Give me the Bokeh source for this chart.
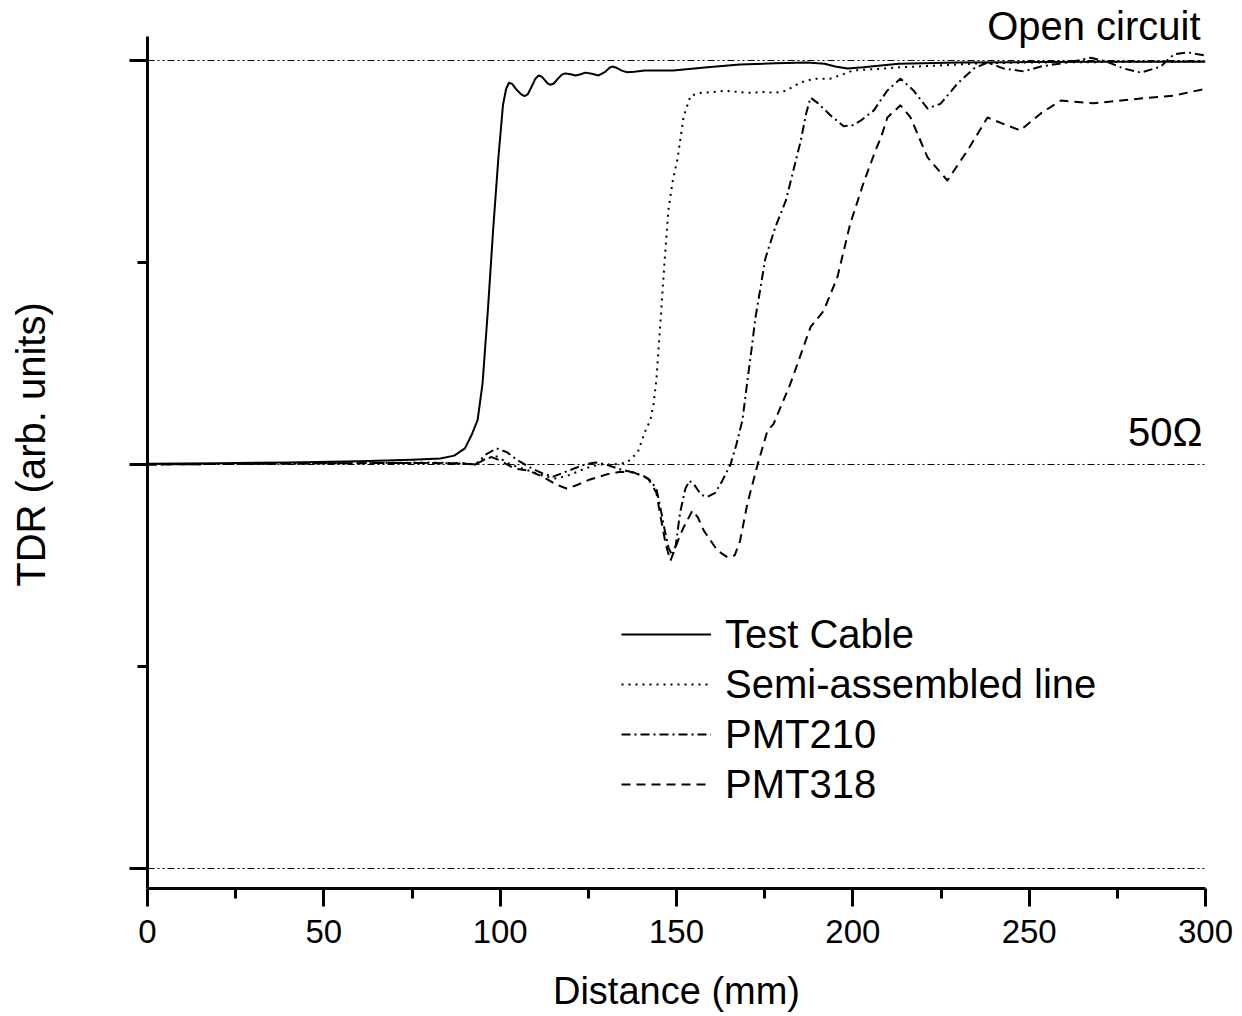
from bokeh.plotting import figure
from bokeh.models import (Range1d, FixedTicker, Span, Label, Legend, LegendItem,
                          CustomJSTickFormatter)
from bokeh.embed import file_html
from bokeh.resources import INLINE

FONT = "Liberation Sans"

# ---------------- data ----------------
x_ticks = [0, 50, 100, 150, 200, 250, 300]
x_minor = [25, 75, 125, 175, 225, 275]
y_ticks = [-1, 0, 1]
y_minor = [-0.5, 0.5]
ref_levels = [1, 0, -1]

series_names = ["Test Cable", "Semi-assembled line", "PMT210", "PMT318"]

test_x = [0, 20, 40, 60, 75, 83, 87, 90, 92, 93.6, 95, 96.5, 98, 99.5, 100.8, 101.7,
          102.5, 103.4, 104.6, 106, 106.9, 107.8, 108.9, 110, 110.9, 111.8, 112.6,
          113.5, 114.3, 115.2, 116.4, 117.5, 118.5, 120, 121.4, 122.8, 124.2, 126,
          127.9, 129.8, 131, 131.8, 133, 134.5, 136, 138, 141, 149, 158.8, 168, 178,
          187, 192, 195, 198.5, 203, 213, 230, 250, 270, 300]
test_y = [0.002, 0.003, 0.005, 0.008, 0.012, 0.015, 0.022, 0.04, 0.075, 0.11, 0.2,
          0.38, 0.58, 0.76, 0.89, 0.93, 0.945, 0.942, 0.928, 0.916, 0.912, 0.916,
          0.935, 0.955, 0.963, 0.96, 0.952, 0.943, 0.94, 0.943, 0.955, 0.965, 0.968,
          0.966, 0.963, 0.966, 0.97, 0.967, 0.963, 0.972, 0.982, 0.985, 0.982, 0.975,
          0.971, 0.972, 0.975, 0.975, 0.983, 0.99, 0.993, 0.995, 0.992, 0.985, 0.98,
          0.983, 0.992, 0.995, 0.996, 0.997, 0.997]

semi_x = [0, 50, 80, 90, 93, 96, 99, 103, 108, 113, 116, 120, 124, 128, 132, 136, 139,
          141, 142.6, 143.5, 144.3, 145.5, 146.6, 147.7, 148.9, 150.3, 152, 154, 157,
          160.5, 164, 170, 175, 178, 181, 185, 189, 193.6, 197, 200, 213, 225, 236, 250,
          270, 290, 300]
semi_y = [0.0, 0.003, 0.005, 0.003, 0.0, 0.015, 0.02, 0.0, -0.015, -0.03, -0.035,
          -0.025, -0.01, 0.0, 0.0, 0.005, 0.03, 0.08, 0.11, 0.15, 0.21, 0.36, 0.5, 0.63,
          0.70, 0.757, 0.86, 0.913, 0.92, 0.922, 0.925, 0.92, 0.922, 0.92, 0.925, 0.945,
          0.955, 0.955, 0.965, 0.975, 0.983, 0.988, 0.993, 0.995, 0.996, 0.997, 0.998]

pmt210_x = [0, 50, 80, 90, 93, 96, 99, 102, 105, 109, 112, 115, 118, 121, 124, 127,
            130, 134, 137.8, 141, 142.6, 144.3, 145.5, 146.6, 147.7, 148.8, 149.8, 151,
            152.5, 153.7, 155, 157, 158.8, 161, 163, 165.3, 167, 168.7, 170, 171.2,
            172.4, 175.2, 178, 181, 183.2, 185.2, 186.8, 188, 190, 193.7, 197.4, 200,
            202.2, 205.9, 209.8, 213.5, 217.2, 221.2, 224.9, 229.7, 234.3, 238.2, 242.8,
            248.5, 253.3, 262.7, 267.5, 272, 276.9, 281.7, 287.3, 291, 295, 300]
pmt210_y = [0.0, 0.003, 0.004, 0.002, 0.0, 0.025, 0.04, 0.03, 0.01, -0.01, -0.022,
            -0.03, -0.02, -0.01, 0.0, 0.005, 0.0, -0.012, -0.02, -0.03, -0.04, -0.06,
            -0.11, -0.16, -0.205, -0.225, -0.2, -0.12, -0.06, -0.04, -0.05, -0.075,
            -0.08, -0.07, -0.04, 0.0, 0.05, 0.11, 0.2, 0.28, 0.364, 0.51, 0.587, 0.653,
            0.73, 0.8, 0.87, 0.908, 0.895, 0.864, 0.837, 0.84, 0.851, 0.876, 0.926,
            0.955, 0.926, 0.881, 0.893, 0.943, 0.98, 0.995, 0.98, 0.973, 0.985, 0.998,
            1.007, 0.997, 0.98, 0.97, 0.985, 1.015, 1.02, 1.012]

pmt318_x = [0, 50, 80, 90, 93, 97, 100, 104, 108, 112, 116, 119, 122, 125.5, 130, 134,
            138, 142, 144.3, 145.5, 147, 148.3, 149.5, 151, 152, 154.5, 156, 157.7,
            161.6, 164.5, 166.5, 168, 170.1, 173, 175.8, 177.5, 182.3, 188, 191.7,
            195.6, 199.3, 203, 206.4, 208, 209.8, 213.5, 216.3, 221.2, 226.8, 232.5,
            238.2, 243.8, 247.5, 253.3, 259, 268.3, 281.6, 291, 300]
pmt318_y = [0.0, 0.003, 0.004, 0.002, 0.0, 0.02, 0.01, -0.01, -0.015, -0.03, -0.05,
            -0.06, -0.05, -0.037, -0.025, -0.018, -0.02, -0.035, -0.07, -0.13, -0.2,
            -0.238, -0.21, -0.175, -0.156, -0.114, -0.13, -0.163, -0.213, -0.23,
            -0.225, -0.19, -0.097, 0.0, 0.084, 0.1, 0.2, 0.34, 0.38, 0.463, 0.597,
            0.696, 0.777, 0.81, 0.859, 0.889, 0.86, 0.76, 0.703, 0.777, 0.859, 0.839,
            0.827, 0.869, 0.901, 0.894, 0.906, 0.913, 0.93]

# ---------------- figure ----------------
Y_BOTTOM, Y_AXIS_TOP, Y_FRAME_TOP = -1.0495, 1.0594, 1.1485

p = figure(width=1240, height=1014, output_backend="svg", toolbar_location=None,
           x_range=Range1d(0, 300), y_range=Range1d(Y_BOTTOM, Y_FRAME_TOP),
           x_axis_label="Distance (mm)", y_axis_label="TDR (arb. units)",
           min_border_left=147, min_border_top=0, min_border_right=35,
           min_border_bottom=126)
p.outline_line_color = None
p.xgrid.visible = False
p.ygrid.visible = False
p.background_fill_color = "white"
p.border_fill_color = "white"

xa = p.xaxis[0]
xa.ticker = FixedTicker(ticks=x_ticks, minor_ticks=x_minor)
xa.axis_line_width = 3
xa.major_tick_line_width = 3
xa.minor_tick_line_width = 3
xa.major_tick_out = 18
xa.major_tick_in = 0
xa.minor_tick_out = 10
xa.minor_tick_in = 0
xa.major_label_text_font = FONT
xa.major_label_text_font_size = "33px"
xa.major_label_text_color = "black"
xa.major_label_standoff = 13
xa.axis_label_text_font = FONT
xa.axis_label_text_font_size = "38px"
xa.axis_label_text_font_style = "normal"
xa.axis_label_text_color = "black"
xa.axis_label_standoff = 24

ya = p.yaxis[0]
ya.ticker = FixedTicker(ticks=y_ticks, minor_ticks=y_minor)
ya.bounds = (Y_BOTTOM, Y_AXIS_TOP)
ya.axis_line_width = 3
ya.major_tick_line_width = 3
ya.minor_tick_line_width = 3
ya.major_tick_out = 18
ya.major_tick_in = 0
ya.minor_tick_out = 10
ya.minor_tick_in = 0
ya.formatter = CustomJSTickFormatter(code="return ''")
ya.major_label_standoff = 0
ya.axis_label_text_font = FONT
ya.axis_label_text_font_size = "40px"
ya.axis_label_text_font_style = "normal"
ya.axis_label_text_color = "black"
ya.axis_label_standoff = 77

for lvl in ref_levels:
    p.add_layout(Span(location=lvl, dimension="width", line_color="black",
                      line_width=1, line_dash="7 3 2 3 2 3"))

styles = ["solid", "2 5", "9 4 2 4", "9 6"]
data = [(test_x, test_y), (semi_x, semi_y), (pmt210_x, pmt210_y), (pmt318_x, pmt318_y)]
items = []
for name, (xs, ys), st in zip(series_names, data, styles):
    r = p.line(xs, ys, line_color="black", line_width=2, line_dash=st,
               line_join="round")
    items.append(LegendItem(label=name, renderers=[r]))

legend = Legend(items=items, location=(474, 81), padding=0, margin=0, spacing=4,
                glyph_width=90, glyph_height=46, label_height=46, label_standoff=14,
                label_text_font=FONT, label_text_font_size="40px",
                label_text_color="black",
                background_fill_alpha=0, border_line_color=None)
p.add_layout(legend)

p.add_layout(Label(x=298.6, y=1.0866, text="Open circuit", text_align="right",
                   text_baseline="alphabetic", text_font=FONT,
                   text_font_size="40px", text_color="black"))
p.add_layout(Label(x=299.1, y=0.0816, text="50Ω", text_align="right",
                   text_baseline="alphabetic", text_font=FONT,
                   text_font_size="40px", text_color="black"))

open("out.html", "w").write(file_html(p, INLINE))
